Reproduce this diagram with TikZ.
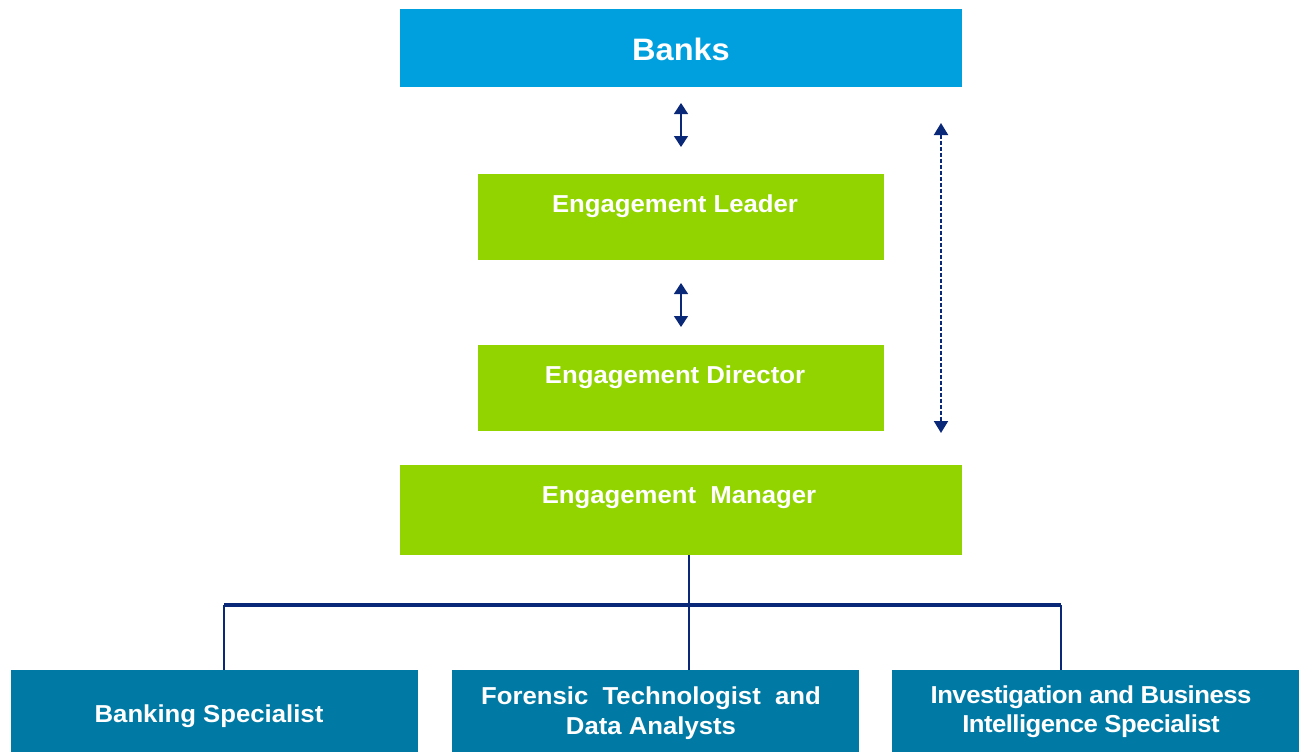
\documentclass[tikz,border=0pt]{standalone}
\usepackage{fontspec}
\setmainfont{Liberation Sans}[FakeStretch=1.05]
\usetikzlibrary{arrows.meta,calc}
\definecolor{banksblue}{RGB}{0,160,223}
\definecolor{lgreen}{RGB}{146,212,0}
\definecolor{teal}{RGB}{0,122,164}
\definecolor{navy}{RGB}{10,40,120}
\tikzset{
  box/.style={fill=#1, draw=none, inner sep=0pt, anchor=north west},
  lbl/.style={text=white, font=\bfseries\fontsize{24.5}{30}\selectfont, inner sep=0pt, align=center},
  bigl/.style={text=white, font=\bfseries\fontsize{31}{36}\selectfont, inner sep=0pt},
  tree/.style={draw=navy, line width=2.7pt},
  dbl/.style={draw=navy, line width=1.4pt, {Triangle[width=14pt,length=11pt]}-{Triangle[width=14pt,length=11pt]}},
  dsh/.style={draw=navy, line width=2pt, dash pattern=on 4pt off 2pt, {Triangle[width=14pt,length=12pt]}-{Triangle[width=14pt,length=12pt]}}
}
\begin{document}
\begin{tikzpicture}[x=1pt,y=-1pt]
\useasboundingbox (0,0) rectangle (1299,752);
% boxes
\node[box=banksblue, minimum width=562pt, minimum height=78pt] (banks) at (400,9) {};
\node[box=lgreen, minimum width=406pt, minimum height=86pt] (leader) at (478,174) {};
\node[box=lgreen, minimum width=406pt, minimum height=86pt] (director) at (478,345) {};
\node[box=lgreen, minimum width=562pt, minimum height=90pt] (mgr) at (400,465) {};
\node[box=teal, minimum width=407pt, minimum height=82pt] (b1) at (11,670) {};
\node[box=teal, minimum width=407pt, minimum height=82pt] (b2) at (452,670) {};
\node[box=teal, minimum width=407pt, minimum height=82pt] (b3) at (892,670) {};
% labels
\node[bigl, anchor=base] (tbanks) at (681,60) {Banks};
\node[lbl, anchor=base] (tleader) at (675,212) {Engagement Leader};
\node[lbl, anchor=base] (tdirector) at (675,383) {Engagement Director};
\node[lbl, anchor=base] (tmgr) at (679,503) {Engagement\ \ Manager};
\node[lbl, anchor=base] (tb1) at (209,722) {Banking Specialist};
\node[lbl] (tb2) at (651,713) {Forensic\ \ Technologist\ \ and\\Data Analysts};
\node[lbl, font=\bfseries\fontsize{24.5}{29}\selectfont\addfontfeature{LetterSpace=-2.2}] (tb3) at (1091,712) {Investigation and Business\\Intelligence Specialist};
% arrows
\coordinate (a1t) at (681,103);
\coordinate (a1b) at (681,147);
\coordinate (a2t) at (681,283);
\coordinate (a2b) at (681,327);
\coordinate (dt) at (941,123);
\coordinate (db) at (941,433);
\draw[dbl] (a1t) -- (a1b);
\draw[dbl] (a2t) -- (a2b);
\draw[dsh] (dt) -- (db);
% tree
\coordinate (m0) at (689,555);
\coordinate (j1) at (224,605);
\coordinate (j2) at (689,605);
\coordinate (j3) at (1061,605);
\draw[tree] (m0) -- (j2);
\draw[draw=navy, line width=3.2pt] (j1) -- (j3);
\draw[tree] (j1) -- (j1 |- b1.north);
\draw[tree] (j2) -- (j2 |- b2.north);
\draw[tree] (j3) -- (j3 |- b3.north);
\end{tikzpicture}
\end{document}
